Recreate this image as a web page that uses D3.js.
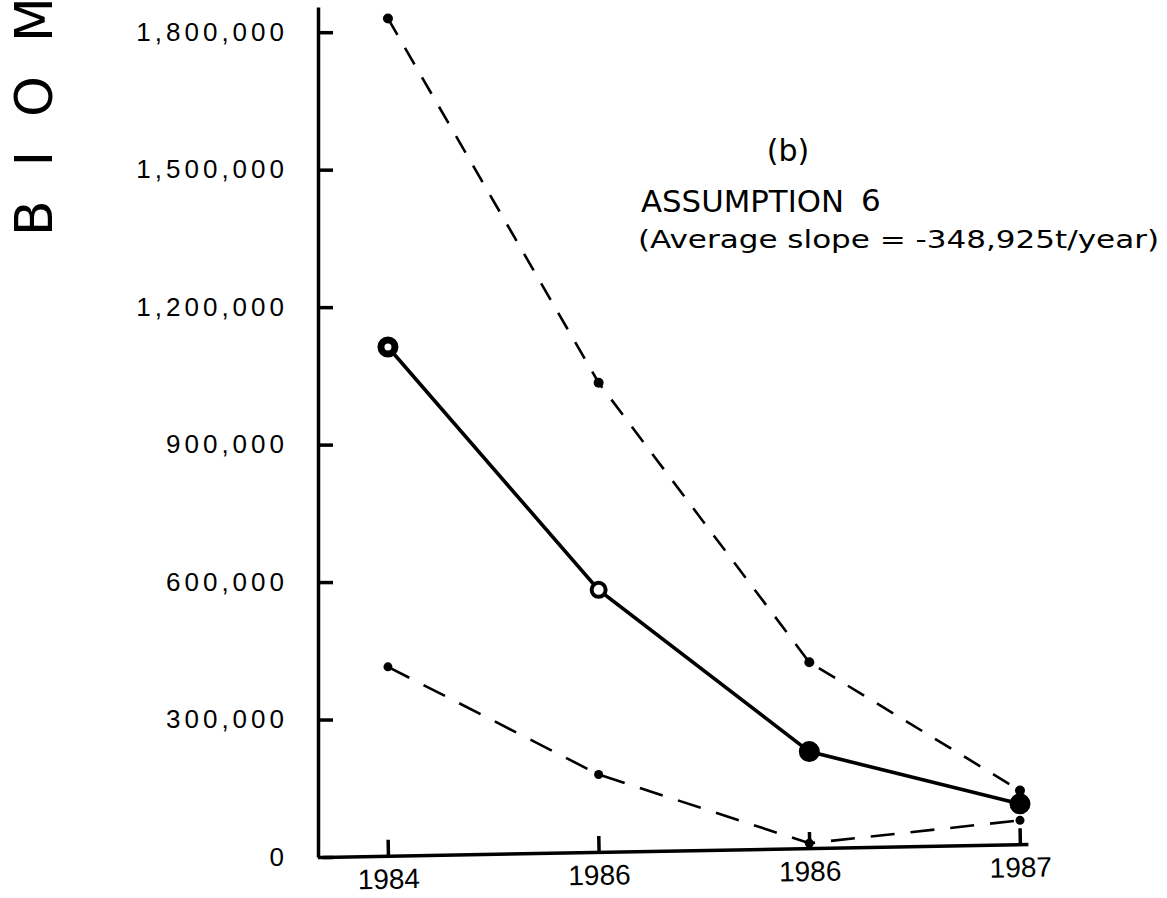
<!DOCTYPE html>
<html>
<head>
<meta charset="utf-8">
<script src="https://cdn.jsdelivr.net/npm/d3@7"></script>
<style>
  body { margin: 0; background: #fff; }
  svg { display: block; font-family: "DejaVu Sans", sans-serif; }
  .axis path, .axis line { stroke: #000; stroke-width: 3.5; }
  .axis text { fill: #000; }
</style>
</head>
<body>
<div id="chart"></div>
<script>
// ============== Data ==============
const years = ['1984', '1986', '1986', '1987'];
const upperValues = [1830000, 1035000, 425000, 145000];
const middleValues = [1113000, 583000, 230000, 116000];
const lowerValues = [415000, 180000, 30000, 80000];
const yTicks = [0, 300000, 600000, 900000, 1200000, 1500000, 1800000];

const width = 1167, height = 898;

const svg = d3.select('#chart')
  .append('svg')
  .attr('width', width)
  .attr('height', height);

// ============== Scales ==============
// x is linear over the point index so the axis line can run past the first / last tick
const x = d3.scaleLinear()
  .domain([-0.313, 3.038])
  .range([322, 1028]);

const y = d3.scaleLinear()
  .domain([0, 1855000])
  .range([857, 7]);

// ============== Y axis ==============
const yAxis = svg.append('g')
  .attr('class', 'axis y-axis')
  .attr('transform', 'translate(318,0)')
  .call(d3.axisLeft(y)
    .tickValues(yTicks)
    .tickSizeInner(-15)
    .tickSizeOuter(0)
    .tickPadding(30)
    .tickFormat(d3.format(',')));

yAxis.selectAll('text')
  .attr('font-size', 26)
  .attr('letter-spacing', 4);

// ============== X axis ==============
// the hand drawn baseline rises a little to the right
const xAxis = svg.append('g')
  .attr('class', 'axis x-axis')
  .attr('transform', 'translate(0,857) rotate(-1.05,322,0)')
  .call(d3.axisBottom(x)
    .tickValues(d3.range(years.length))
    .tickSizeInner(-16)
    .tickSizeOuter(0)
    .tickPadding(13)
    .tickFormat(i => years[i]));

xAxis.selectAll('text')
  .attr('font-size', 28);

// ============== Lines ==============
const line = d3.line()
  .x((d, i) => x(i))
  .y(d => y(d));

svg.append('path')
  .datum(upperValues)
  .attr('d', line)
  .attr('fill', 'none')
  .attr('stroke', '#000')
  .attr('stroke-width', 2.6)
  .attr('stroke-dasharray', '19 15');

svg.append('path')
  .datum(lowerValues)
  .attr('d', line)
  .attr('fill', 'none')
  .attr('stroke', '#000')
  .attr('stroke-width', 2.6)
  .attr('stroke-dasharray', '24 16');

svg.append('path')
  .datum(middleValues)
  .attr('d', line)
  .attr('fill', 'none')
  .attr('stroke', '#000')
  .attr('stroke-width', 3.6);

// ============== Points ==============
svg.selectAll('.dot-upper')
  .data(upperValues)
  .enter()
  .append('circle')
  .attr('class', 'dot-upper')
  .attr('cx', (d, i) => x(i))
  .attr('cy', d => y(d))
  .attr('r', 5);

svg.selectAll('.dot-lower')
  .data(lowerValues)
  .enter()
  .append('circle')
  .attr('class', 'dot-lower')
  .attr('cx', (d, i) => x(i))
  .attr('cy', d => y(d))
  .attr('r', 4.5);

// first two of the middle series are open rings, last two solid
svg.selectAll('.dot-middle')
  .data(middleValues)
  .enter()
  .append('circle')
  .attr('class', 'dot-middle')
  .attr('cx', (d, i) => x(i))
  .attr('cy', d => y(d))
  .attr('r', (d, i) => i < 2 ? 7 : 8.5)
  .attr('fill', (d, i) => i < 2 ? '#fff' : '#000')
  .attr('stroke', '#000')
  .attr('stroke-width', (d, i) => i === 0 ? 7 : 4);

// ============== Titles ==============
svg.append('text')
  .text('(b)')
  .attr('x', 788)
  .attr('y', 161)
  .attr('text-anchor', 'middle')
  .attr('font-size', 30);

svg.append('text')
  .text('ASSUMPTION')
  .attr('x', 641)
  .attr('y', 212)
  .attr('font-size', 31)
  .attr('textLength', 203)
  .attr('lengthAdjust', 'spacingAndGlyphs');

svg.append('text')
  .text('6')
  .attr('x', 861)
  .attr('y', 211)
  .attr('font-size', 31);

svg.append('text')
  .text('(Average slope = -348,925t/year)')
  .attr('x', 638)
  .attr('y', 248)
  .attr('font-size', 25)
  .attr('textLength', 521)
  .attr('lengthAdjust', 'spacingAndGlyphs');

// y axis title, cut off by the top edge as in the scan
svg.append('text')
  .text('BIOMASS')
  .attr('transform', 'translate(52,236) rotate(-90)')
  .attr('font-size', 52)
  .attr('letter-spacing', 34);
</script>
</body>
</html>
